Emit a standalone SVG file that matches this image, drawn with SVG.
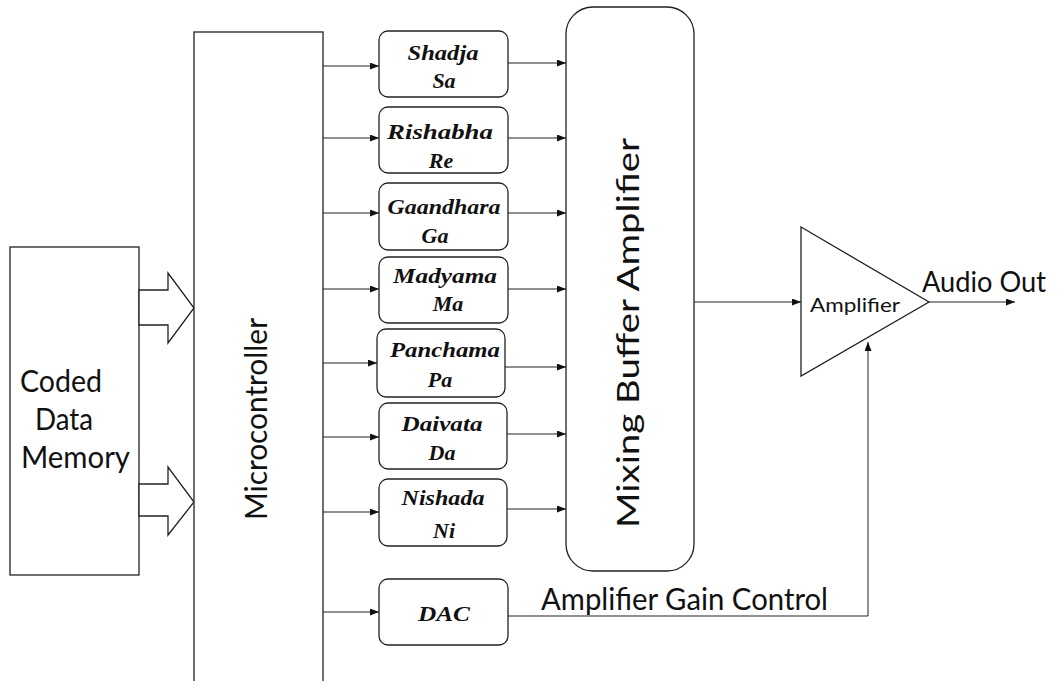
<svg xmlns="http://www.w3.org/2000/svg" width="1057" height="681" viewBox="0 0 1057 681">
<defs>
<marker id="ah" markerUnits="userSpaceOnUse" markerWidth="10" markerHeight="8" refX="9" refY="3.5" orient="auto">
<path d="M0,0 L9,3.5 L0,7 z" fill="#111"/>
</marker>
<style>
.box{fill:#fff;stroke:#222;stroke-width:1.3}
.ln{fill:none;stroke:#222;stroke-width:1}
.sans{font-family:Lato,"Open Sans","Liberation Sans",sans-serif;fill:#111}
.note{font-family:"Liberation Serif","Times New Roman",serif;font-weight:bold;font-style:italic;font-size:22px;fill:#111;text-anchor:middle}
</style>
</defs>
<rect width="1057" height="681" fill="#fff"/>

<g id="memory">
<rect class="box" x="10" y="247" width="129" height="328"/>
<text class="sans" font-size="30" x="20" y="392" textLength="82" lengthAdjust="spacingAndGlyphs">Coded</text>
<text class="sans" font-size="30" x="35" y="430" textLength="58" lengthAdjust="spacingAndGlyphs">Data</text>
<text class="sans" font-size="30" x="21" y="468" textLength="109" lengthAdjust="spacingAndGlyphs">Memory</text>
</g>

<g id="bus-arrows">
<polygon class="box" points="139,290 168,290 168,273 194,308 168,343 168,325 139,325"/>
<polygon class="box" points="139,484 168,484 168,467 194,502 168,535 168,516 139,516"/>
</g>

<g id="microcontroller">
<rect class="box" x="194" y="32" width="129" height="670"/>
<text class="sans" font-size="30" transform="translate(267,520) rotate(-90)" textLength="202" lengthAdjust="spacingAndGlyphs">Microcontroller</text>
</g>

<g id="note-sa">
<rect class="box" x="379" y="31" width="129" height="66" rx="9"/>
<text class="note" x="443" y="60" textLength="71" lengthAdjust="spacingAndGlyphs">Shadja</text>
<text class="note" x="444" y="88">Sa</text>
</g>
<g id="note-re">
<rect class="box" x="379" y="107" width="129" height="66" rx="9"/>
<text class="note" x="440" y="139" textLength="106" lengthAdjust="spacingAndGlyphs">Rishabha</text>
<text class="note" x="441" y="168">Re</text>
</g>
<g id="note-ga">
<rect class="box" x="379" y="183" width="129" height="67" rx="9"/>
<text class="note" x="444" y="214" textLength="113" lengthAdjust="spacingAndGlyphs">Gaandhara</text>
<text class="note" x="435" y="243">Ga</text>
</g>
<g id="note-ma">
<rect class="box" x="379" y="257" width="129" height="66" rx="9"/>
<text class="note" x="445" y="283" textLength="104" lengthAdjust="spacingAndGlyphs">Madyama</text>
<text class="note" x="448" y="311">Ma</text>
</g>
<g id="note-pa">
<rect class="box" x="377" y="329" width="128" height="68" rx="9"/>
<text class="note" x="445" y="357" textLength="110" lengthAdjust="spacingAndGlyphs">Panchama</text>
<text class="note" x="440" y="387">Pa</text>
</g>
<g id="note-da">
<rect class="box" x="379" y="403" width="128" height="66" rx="9"/>
<text class="note" x="442" y="431" textLength="81" lengthAdjust="spacingAndGlyphs">Daivata</text>
<text class="note" x="442" y="460">Da</text>
</g>
<g id="note-ni">
<rect class="box" x="379" y="479" width="128" height="67" rx="9"/>
<text class="note" x="443" y="505" textLength="83" lengthAdjust="spacingAndGlyphs">Nishada</text>
<text class="note" x="444" y="538">Ni</text>
</g>
<g id="dac">
<rect class="box" x="379" y="579" width="129" height="66" rx="9"/>
<text class="note" x="444" y="621" font-size="25" textLength="52" lengthAdjust="spacingAndGlyphs">DAC</text>
</g>

<g id="mixer">
<rect class="box" x="566" y="7" width="128" height="564" rx="27"/>
<text class="sans" font-size="30" transform="translate(639,528) rotate(-90)" textLength="390" lengthAdjust="spacingAndGlyphs">Mixing Buffer Amplifier</text>
</g>

<g id="amplifier">
<polygon class="box" points="801,227 929,302 801,376"/>
<text class="sans" font-size="19" x="810" y="312" textLength="90" lengthAdjust="spacingAndGlyphs">Amplifier</text>
</g>

<g id="connectors">
<line class="ln" x1="323" y1="66" x2="379" y2="66" marker-end="url(#ah)"/>
<line class="ln" x1="323" y1="138" x2="379" y2="138" marker-end="url(#ah)"/>
<line class="ln" x1="323" y1="213" x2="379" y2="213" marker-end="url(#ah)"/>
<line class="ln" x1="323" y1="289" x2="379" y2="289" marker-end="url(#ah)"/>
<line class="ln" x1="323" y1="363" x2="377" y2="363" marker-end="url(#ah)"/>
<line class="ln" x1="323" y1="437" x2="379" y2="437" marker-end="url(#ah)"/>
<line class="ln" x1="323" y1="512" x2="379" y2="512" marker-end="url(#ah)"/>
<line class="ln" x1="323" y1="612" x2="379" y2="612" marker-end="url(#ah)"/>
<line class="ln" x1="508" y1="63" x2="566" y2="63" marker-end="url(#ah)"/>
<line class="ln" x1="508" y1="138" x2="566" y2="138" marker-end="url(#ah)"/>
<line class="ln" x1="508" y1="213" x2="566" y2="213" marker-end="url(#ah)"/>
<line class="ln" x1="508" y1="289" x2="566" y2="289" marker-end="url(#ah)"/>
<line class="ln" x1="505" y1="367" x2="566" y2="367" marker-end="url(#ah)"/>
<line class="ln" x1="507" y1="434" x2="566" y2="434" marker-end="url(#ah)"/>
<line class="ln" x1="507" y1="509" x2="566" y2="509" marker-end="url(#ah)"/>
<line class="ln" x1="694" y1="302" x2="801" y2="302" marker-end="url(#ah)"/>
<line class="ln" x1="929" y1="302" x2="1015" y2="302" marker-end="url(#ah)"/>
<polyline class="ln" points="508,616 868,616 868,342" marker-end="url(#ah)"/>
</g>

<g id="labels">
<text class="sans" font-size="29" x="922" y="292" textLength="124" lengthAdjust="spacingAndGlyphs">Audio Out</text>
<text class="sans" font-size="30" x="541" y="610" textLength="287" lengthAdjust="spacingAndGlyphs">Amplifier Gain Control</text>
</g>
</svg>
